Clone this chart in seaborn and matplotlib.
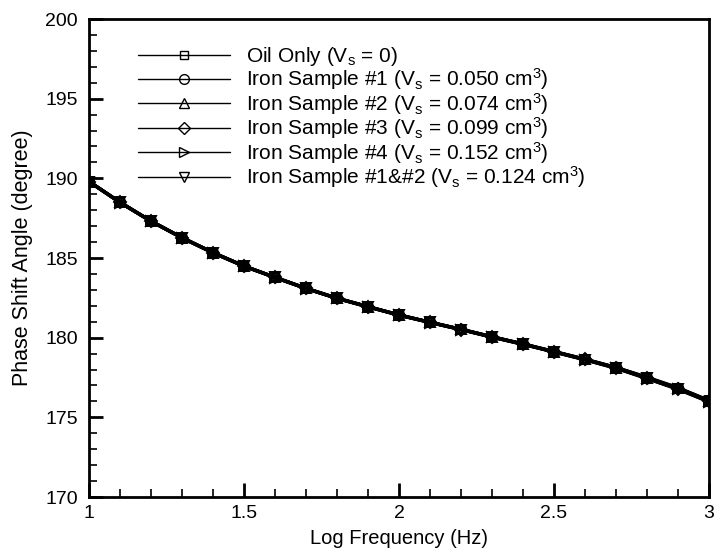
import matplotlib
matplotlib.use("Agg")
import matplotlib.pyplot as plt
import seaborn as sns
import numpy as np
import pandas as pd

sns.set_theme(style="ticks")
plt.rcParams['font.family'] = ['Liberation Sans', 'DejaVu Sans']
plt.rcParams['mathtext.fontset'] = 'custom'
plt.rcParams['mathtext.rm'] = 'Liberation Sans'
plt.rcParams['mathtext.default'] = 'regular'

log_freq = [1.0, 1.1, 1.2, 1.3, 1.4, 1.5, 1.6, 1.7, 1.8, 1.9, 2.0,
            2.1, 2.2, 2.3, 2.4, 2.5, 2.6, 2.7, 2.8, 2.9, 3.0]

oil_only = [189.80, 188.50, 187.32, 186.28, 185.34, 184.50, 183.79, 183.10, 182.48, 181.95, 181.43,
            180.97, 180.53, 180.06, 179.61, 179.13, 178.65, 178.13, 177.52, 176.86, 176.06]
iron_1 = [189.80, 188.50, 187.32, 186.28, 185.34, 184.50, 183.79, 183.10, 182.48, 181.95, 181.43,
          180.97, 180.53, 180.06, 179.61, 179.13, 178.65, 178.13, 177.50, 176.84, 176.04]
iron_2 = [189.80, 188.49, 187.31, 186.27, 185.33, 184.49, 183.78, 183.09, 182.47, 181.94, 181.42,
          180.96, 180.52, 180.05, 179.60, 179.12, 178.64, 178.11, 177.48, 176.82, 176.02]
iron_3 = [189.80, 188.49, 187.31, 186.27, 185.33, 184.49, 183.78, 183.09, 182.47, 181.94, 181.42,
          180.96, 180.51, 180.04, 179.59, 179.11, 178.63, 178.10, 177.46, 176.79, 176.00]
iron_4 = [189.79, 188.48, 187.30, 186.26, 185.32, 184.48, 183.77, 183.08, 182.46, 181.93, 181.41,
          180.95, 180.50, 180.03, 179.58, 179.10, 178.61, 178.08, 177.43, 176.76, 175.97]
iron_12 = [189.80, 188.49, 187.31, 186.27, 185.33, 184.49, 183.78, 183.09, 182.47, 181.94, 181.42,
           180.96, 180.51, 180.04, 179.59, 179.11, 178.62, 178.09, 177.45, 176.78, 175.99]

series_labels = [
    r'Oil Only (V$_s$ = 0)',
    r'Iron Sample #1 (V$_s$ = 0.050 cm$^3$)',
    r'Iron Sample #2 (V$_s$ = 0.074 cm$^3$)',
    r'Iron Sample #3 (V$_s$ = 0.099 cm$^3$)',
    r'Iron Sample #4 (V$_s$ = 0.152 cm$^3$)',
    r'Iron Sample #1&#2 (V$_s$ = 0.124 cm$^3$)',
]
series_values = [oil_only, iron_1, iron_2, iron_3, iron_4, iron_12]
markers = ['s', 'o', '^', 'D', '>', 'v']
marker_sizes = [6, 7, 7, 6, 7, 7]

x_ticks = [1, 1.5, 2, 2.5, 3]
x_tick_labels = ['1', '1.5', '2', '2.5', '3']
y_ticks = [170, 175, 180, 185, 190, 195, 200]

fig = plt.figure(figsize=(7.15, 5.51), dpi=100)
ax = fig.add_axes([89/715, 54/551, 620/715, 478/551])

for lab, vals, m, ms in zip(series_labels, series_values, markers, marker_sizes):
    df = pd.DataFrame({'x': log_freq, 'y': vals})
    sns.lineplot(data=df, x='x', y='y', ax=ax, color='black', marker=m,
                 markersize=ms, markerfacecolor='none', markeredgecolor='black',
                 markeredgewidth=1.4, linewidth=2.4, label=lab)

ax.set_xlim(1, 3)
ax.set_ylim(170, 200)
ax.set_xticks(x_ticks)
ax.set_xticklabels(x_tick_labels)
ax.set_yticks(y_ticks)
ax.set_xticks(np.arange(1, 3.0001, 0.1), minor=True)
ax.set_yticks(np.arange(170, 200.001, 1), minor=True)
ax.tick_params(which='major', direction='in', length=10, width=2, labelsize=14,
               top=False, right=False, colors='black')
ax.tick_params(axis='y', which='major', pad=8)
ax.tick_params(axis='x', which='major', pad=6)
ax.tick_params(which='minor', direction='in', length=6, width=1.2,
               top=False, right=False, colors='black')
for s in ax.spines.values():
    s.set_linewidth(2)
    s.set_color('black')
    s.set_visible(True)

ax.set_xlabel('Log Frequency (Hz)', fontsize=14.5, color='black', labelpad=5)
ax.set_ylabel('Phase Shift Angle (degree)', fontsize=15.5, color='black', labelpad=9)

leg = ax.legend(loc='upper left', bbox_to_anchor=(0.079, 0.946), frameon=False,
                fontsize=15, handlelength=4.4, handletextpad=0.8, labelspacing=-0.07,
                borderpad=0, borderaxespad=0)
for h in leg.get_lines():
    h.set_linewidth(1.0)
    h.set_markeredgewidth(1.0)
for t in leg.get_texts():
    t.set_color('black')

fig.savefig('out.png', dpi=100, facecolor='white')
